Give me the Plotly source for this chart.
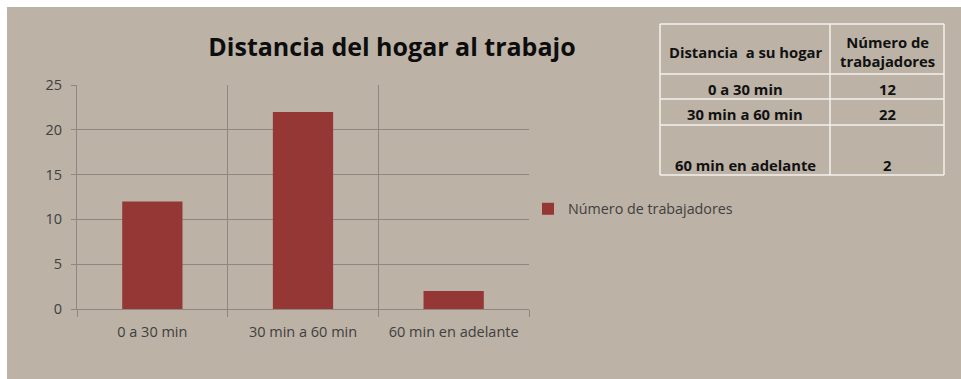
import plotly.graph_objects as go

# Data
categories = ["0 a 30 min", "30 min a 60 min", "60 min en adelante"]
trabajadores = [12, 22, 2]
serie_nombre = "Número de trabajadores"
titulo = "Distancia del hogar al trabajo"
tabla_encabezado = ["Distancia  a su hogar", "Número de<br>trabajadores"]
y_ticks = [0, 5, 10, 15, 20, 25]

W, H = 961, 379
L, R, T, B = 77, 529, 85, 309  # plot area in pixels

FONT = "Open Sans"
BG = "#bcb2a6"
GRID = "#8d8781"
TXT = "#404040"


def px(x):
    return (x - L) / (R - L)


def py(y):
    return (B - y) / (B - T)


fig = go.Figure()
fig.add_trace(go.Bar(
    x=categories, y=trabajadores, name=serie_nombre,
    marker=dict(color="#953735", line=dict(width=0)),
    width=0.4, showlegend=True,
))

shapes = [
    # textured-paper backdrop
    dict(type="rect", xref="paper", yref="paper", x0=px(7), x1=px(W + 5),
         y0=py(H + 5), y1=py(7), fillcolor=BG, line=dict(width=0), layer="below"),
]

# data table drawn top right
col_x = [660, 830, 944]
row_y = [24, 74, 99, 125, 175]
for xx in col_x:
    shapes.append(dict(type="line", xref="paper", yref="paper", x0=px(xx), x1=px(xx),
                       y0=py(row_y[0]), y1=py(row_y[-1]),
                       line=dict(color="#f4f1ec", width=1.5)))
for yy in row_y:
    shapes.append(dict(type="line", xref="paper", yref="paper", x0=px(col_x[0]), x1=px(col_x[-1]),
                       y0=py(yy), y1=py(yy), line=dict(color="#f4f1ec", width=1.5)))

annotations = []
tfont = dict(family=FONT, size=14.8, color="#111111", weight="bold")
c1 = (col_x[0] + col_x[1]) / 2
c2 = (col_x[1] + col_x[2]) / 2
annotations.append(dict(x=px(c1 + 1), y=py(52), xref="paper", yref="paper", text=tabla_encabezado[0],
                        showarrow=False, font=tfont, xanchor="center", yanchor="middle"))
annotations.append(dict(x=px(c2), y=py(52), xref="paper", yref="paper", text=tabla_encabezado[1],
                        showarrow=False, font=tfont, xanchor="center", yanchor="middle"))
row_centers = [89, 114, 165]
for cat, val, yc in zip(categories, trabajadores, row_centers):
    annotations.append(dict(x=px(c1), y=py(yc), xref="paper", yref="paper", text=cat,
                            showarrow=False, font=tfont, xanchor="center", yanchor="middle"))
    annotations.append(dict(x=px(c2), y=py(yc), xref="paper", yref="paper", text=str(val),
                            showarrow=False, font=tfont, xanchor="center", yanchor="middle"))

fig.update_layout(
    width=W, height=H, autosize=False,
    margin=dict(l=L, r=W - R, t=T, b=H - B, pad=0),
    paper_bgcolor="white", plot_bgcolor="rgba(0,0,0,0)",
    font=dict(family=FONT, size=14, color=TXT),
    title=dict(text=titulo, x=392 / W, xanchor="center", y=1 - 47 / H, yanchor="middle",
               font=dict(family=FONT, size=25, color="#0d0d0d", weight="bold")),
    shapes=shapes, annotations=annotations,
    legend=dict(x=px(528), y=py(209), xanchor="left", yanchor="middle",
                bgcolor="rgba(0,0,0,0)", font=dict(family=FONT, size=14.3, color=TXT),
                itemclick=False),
    xaxis=dict(type="category", tickson="boundaries", showgrid=True, gridcolor=GRID, gridwidth=1,
               ticks="outside", ticklen=7, tickcolor=GRID, showline=True, linecolor=GRID,
               tickfont=dict(family=FONT, size=14.5, color=TXT), range=[-0.5, 2.5], zeroline=False,
               ticklabelstandoff=10),
    yaxis=dict(range=[0, 25], tickvals=y_ticks, showgrid=True, gridcolor=GRID, gridwidth=1,
               ticks="outside", ticklen=5, tickcolor=GRID, showline=True, linecolor=GRID,
               tickfont=dict(family=FONT, size=14.5, color=TXT), zeroline=False,
               ticklabelstandoff=6),
    bargap=0.6,
)

fig.write_html("out.html")
